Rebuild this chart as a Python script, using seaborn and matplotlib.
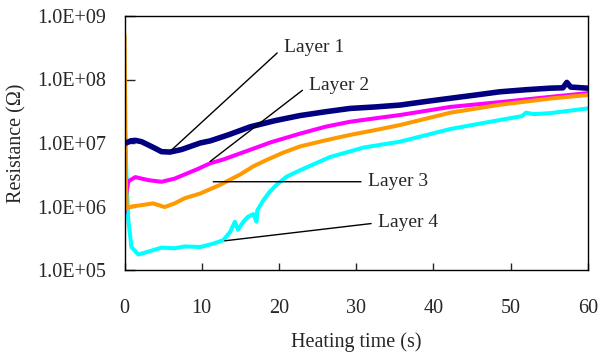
import numpy as np
import pandas as pd
import matplotlib
matplotlib.use("Agg")
import matplotlib.pyplot as plt
from matplotlib.ticker import FixedLocator, FuncFormatter, NullLocator
import seaborn as sns

# ── Data ──────────────────────────────────────────────────────
t_layer1 = [0.2, 0.8, 1.4, 2.2, 3.1, 4.0, 4.8, 5.9, 7.4, 9.8, 11.1, 13.5, 16.3,
            19.5, 22.7, 26.0, 29.2, 32.5, 35.7, 39.0, 42.2, 45.5, 48.6, 52.0,
            55.1, 56.8, 57.3, 57.8, 60.0]
r_layer1 = [1.0e7, 1.08e7, 1.1e7, 1.05e7, 9.3e6, 8.2e6, 7.3e6, 7.2e6, 7.9e6,
            1.0e7, 1.08e7, 1.35e7, 1.8e7, 2.25e7, 2.7e7, 3.1e7, 3.5e7, 3.7e7,
            3.96e7, 4.5e7, 5.06e7, 5.7e7, 6.4e7, 6.9e7, 7.3e7, 7.4e7, 9.0e7,
            7.6e7, 7.3e7]

t_layer2 = [0.0, 0.2, 0.5, 1.4, 3.1, 4.8, 6.5, 7.8, 9.5, 11.1, 12.8, 16.0, 19.0,
            22.7, 26.0, 29.2, 32.5, 35.7, 42.2, 48.6, 55.0, 60.0]
r_layer2 = [8.0e5, 1.5e6, 2.5e6, 2.9e6, 2.6e6, 2.45e6, 2.75e6, 3.2e6, 3.9e6,
            4.8e6, 5.5e6, 7.6e6, 1.03e7, 1.4e7, 1.8e7, 2.16e7, 2.45e7, 2.76e7,
            3.7e7, 4.4e7, 5.3e7, 6.1e7]

t_layer3 = [0.0, 0.1, 0.2, 0.3, 0.9, 2.2, 3.7, 5.2, 6.5, 7.8, 9.8, 12.4, 15.0,
            16.7, 18.4, 20.5, 22.7, 26.0, 29.2, 32.5, 35.7, 42.2, 48.6, 55.1,
            60.0]
r_layer3 = [5.0e8, 3.0e7, 2.0e6, 9.3e5, 1.0e6, 1.05e6, 1.12e6, 9.8e5, 1.12e6,
            1.35e6, 1.6e6, 2.2e6, 3.2e6, 4.3e6, 5.4e6, 7.0e6, 8.8e6, 1.1e7,
            1.34e7, 1.6e7, 1.92e7, 3.0e7, 4.0e7, 5.0e7, 5.7e7]

t_layer4 = [0.0, 0.1, 0.3, 0.5, 0.9, 1.8, 3.1, 4.8, 6.5, 7.8, 9.8, 11.5, 12.8,
            13.7, 14.3, 14.7, 15.4, 16.0, 16.7, 17.1, 17.2, 18.0, 18.8, 19.7,
            21.0, 22.7, 26.6, 31.0, 35.7, 42.2, 48.6, 51.5, 52.0, 53.0, 55.1,
            60.0]
r_layer4 = [1.4e7, 1.4e7, 2.0e6, 6.0e5, 2.3e5, 1.75e5, 1.95e5, 2.25e5, 2.2e5,
            2.35e5, 2.3e5, 2.6e5, 2.95e5, 4.0e5, 5.75e5, 4.3e5, 5.75e5, 6.9e5,
            7.6e5, 5.75e5, 8.7e5, 1.26e6, 1.7e6, 2.2e6, 2.95e6, 3.7e6, 6.0e6,
            8.5e6, 1.05e7, 1.66e7, 2.3e7, 2.65e7, 3.0e7, 2.85e7, 2.95e7, 3.5e7]

layer_names = ["Layer 1", "Layer 2", "Layer 3", "Layer 4"]
layer_colors = ["#000080", "#FF00FF", "#FF9900", "#00FFFF"]

# annotation: (line start on curve), (text anchor)
label_xy = [(6.1, 10**6.89), (11.1, 10**6.71), (11.5, 10**6.39), (13.0, 10**5.46)]
label_text_xy = [(20.6, 10**8.51), (23.9, 10**7.91), (31.6, 10**6.39), (32.9, 10**5.745)]

y_ticks = [1e5, 1e6, 1e7, 1e8, 1e9]
x_ticks = [0, 10, 20, 30, 40, 50, 60]

# ── Plot ──────────────────────────────────────────────────────
sns.set_style("white")
plt.rcParams["font.family"] = ["Liberation Serif", "DejaVu Serif"]

fig, ax = plt.subplots(figsize=(6.01, 3.56), dpi=100)
fig.subplots_adjust(left=124.5 / 601, right=587.7 / 601,
                    bottom=1 - 270 / 356, top=1 - 16 / 356)

# drawing order: layer 4 at the back, layer 1 on top
series = [(t_layer4, r_layer4, 3), (t_layer2, r_layer2, 1),
          (t_layer3, r_layer3, 2), (t_layer1, r_layer1, 0)]
for t, r, i in series:
    df = pd.DataFrame({"t": t, "R": r})
    sns.lineplot(data=df, x="t", y="R", ax=ax, color=layer_colors[i],
                 lw=4.0 if i == 0 else 2.9, sort=False, estimator=None)

ax.set_yscale("log")
ax.set_xlim(0, 60)
ax.set_ylim(1e5, 1e9)
ax.yaxis.set_major_locator(FixedLocator(y_ticks))
ax.yaxis.set_minor_locator(NullLocator())
ax.yaxis.set_major_formatter(FuncFormatter(lambda v, p: f"{v:.1E}"))
ax.xaxis.set_major_locator(FixedLocator(x_ticks))

ax.tick_params(axis="y", direction="in", length=7, width=1, pad=13,
               labelsize=14.5, left=True, right=False)
ax.tick_params(axis="x", direction="in", length=5, width=1, pad=21,
               labelsize=14.5, bottom=True, top=False)
for s in ax.spines.values():
    s.set_color("black")
    s.set_linewidth(1)

ax.set_xlabel("Heating time (s)", fontsize=14.5, labelpad=10)
ax.set_ylabel("Resistance (Ω)", fontsize=14.5, labelpad=8)

for name, xy, txy in zip(layer_names, label_xy, label_text_xy):
    ax.annotate(name, xy=xy, xytext=txy, fontsize=14, ha="left", va="center",
                arrowprops=dict(arrowstyle="-", color="black", lw=1,
                                relpos=(0, 0.5), shrinkA=3, shrinkB=0))

plt.savefig("out.png", dpi=100)
plt.close()
